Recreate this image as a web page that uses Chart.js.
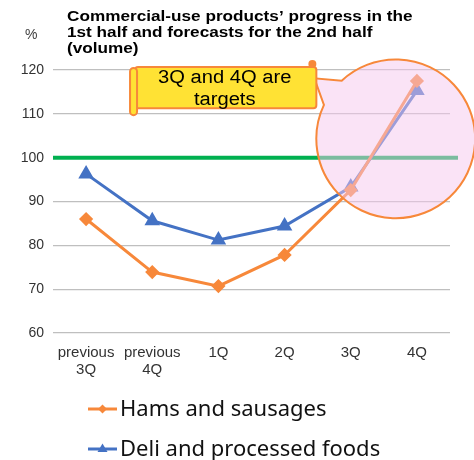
<!DOCTYPE html>
<html>
<head>
<meta charset="utf-8">
<script src="https://cdn.jsdelivr.net/npm/chart.js@4/dist/chart.umd.min.js"></script>
<style>
html,body{margin:0;padding:0;background:#fff;}
#wrap{width:474px;height:460px;position:relative;}
</style>
</head>
<body>
<div id="wrap"><canvas id="c" width="474" height="460"></canvas></div>
<script>
const categories = [["previous","3Q"],["previous","4Q"],"1Q","2Q","3Q","4Q"];
const hamsLabel = "Hams and sausages";
const hamsValues = [86.0, 73.9, 70.7, 77.8, 92.6, 117.5];
const deliLabel = "Deli and processed foods";
const deliValues = [96.3, 85.6, 81.2, 84.4, 93.3, 115.3];
const yTicks = [60, 70, 80, 90, 100, 110, 120];
const targetLine = 100;
const titleLines = ["Commercial-use products\u2019 progress in the", "1st half and forecasts for the 2nd half", "(volume)"];
const unitLabel = "%";
const calloutLines = ["3Q and 4Q are", "targets"];

const ORANGE = "#F7883A";
const BLUE = "#4472C4";
const GREEN = "#00B050";

function stretchText(ctx, text, x, y, sx) {
  ctx.save();
  ctx.translate(x, y);
  ctx.scale(sx, 1);
  ctx.fillText(text, 0, 0);
  ctx.restore();
}

const decor = {
  id: "decor",
  beforeDatasetsDraw(chart) {
    const ctx = chart.ctx, y = chart.scales.y, ca = chart.chartArea;
    const py = y.getPixelForValue(targetLine);
    ctx.save();
    ctx.strokeStyle = GREEN;
    ctx.lineWidth = 4;
    ctx.beginPath();
    ctx.moveTo(ca.left, py);
    ctx.lineTo(ca.right + 8, py);
    ctx.stroke();
    ctx.restore();
  },
  afterDatasetsDraw(chart) {
    const ctx = chart.ctx, x = chart.scales.x, y = chart.scales.y;
    const step = x.getPixelForValue(1) - x.getPixelForValue(0);
    const cx = x.getPixelForValue(4) + 0.68 * step;
    const cy = y.getPixelForValue(104.3);
    const r = 1.2 * step;
    const tipX = x.getPixelForValue(1.5) + 1.95 * step;
    const tipY = y.getPixelForValue(118.1);
    const a1 = Math.atan2(82 - 139, 342 - 395);
    const a2 = Math.atan2(105 - 139, 323 - 395) + Math.PI * 2;
    ctx.save();
    ctx.beginPath();
    ctx.arc(cx, cy, r, a1, a2, false);
    ctx.lineTo(tipX, tipY);
    ctx.closePath();
    ctx.fillStyle = "rgba(246,200,238,0.5)";
    ctx.fill();
    ctx.strokeStyle = ORANGE;
    ctx.lineWidth = 2;
    ctx.stroke();
    const bx = x.getPixelForValue(0) + 0.74 * step, bx2 = tipX + 2;
    const by = y.getPixelForValue(120.7), by2 = y.getPixelForValue(111.3);
    ctx.fillStyle = "#FFE234";
    ctx.strokeStyle = ORANGE;
    ctx.lineWidth = 2;
    ctx.beginPath();
    ctx.roundRect(bx, by, bx2 - bx, by2 - by, 3);
    ctx.fill(); ctx.stroke();
    ctx.beginPath();
    ctx.roundRect(bx - 5, by + 1, 7, by2 - by + 6, 3.5);
    ctx.fill(); ctx.stroke();
    ctx.fillStyle = ORANGE;
    ctx.beginPath();
    ctx.arc(bx2 - 4, by - 3, 4, 0, Math.PI * 2);
    ctx.fill();
    ctx.fillStyle = "#000";
    ctx.font = "18px 'Liberation Sans', Arial, sans-serif";
    ctx.textAlign = "center";
    ctx.textBaseline = "middle";
    const tx = (bx + bx2) / 2 - 1;
    stretchText(ctx, calloutLines[0], tx, by + 11, 1.12);
    stretchText(ctx, calloutLines[1], tx, by + 33, 1.12);
    ctx.restore();
  },
  afterDraw(chart) {
    const ctx = chart.ctx;
    ctx.save();
    ctx.fillStyle = "#000";
    ctx.font = "bold 15px 'Liberation Sans', Arial, sans-serif";
    ctx.textAlign = "left";
    ctx.textBaseline = "middle";
    titleLines.forEach((t, i) => stretchText(ctx, t, 67, 17 + i * 16, 1.145));
    ctx.font = "14px 'Liberation Sans', Arial, sans-serif";
    ctx.fillStyle = "#404040";
    ctx.fillText(unitLabel, 25, 35);
    const items = [
      {label: hamsLabel, color: ORANGE, style: "diamond", y: 409},
      {label: deliLabel, color: BLUE, style: "triangle", y: 449}
    ];
    items.forEach(it => {
      ctx.strokeStyle = it.color;
      ctx.fillStyle = it.color;
      ctx.lineWidth = 3;
      ctx.beginPath();
      ctx.moveTo(88, it.y); ctx.lineTo(117, it.y);
      ctx.stroke();
      const mx = 102.5, my = it.y;
      ctx.beginPath();
      if (it.style === "diamond") {
        ctx.moveTo(mx, my - 4.5); ctx.lineTo(mx + 4.5, my); ctx.lineTo(mx, my + 4.5); ctx.lineTo(mx - 4.5, my);
      } else {
        ctx.moveTo(mx, my - 5.5); ctx.lineTo(mx + 5, my + 3); ctx.lineTo(mx - 5, my + 3);
      }
      ctx.closePath(); ctx.fill();
      ctx.fillStyle = "#111";
      ctx.font = "22px 'Noto Sans', sans-serif";
      ctx.textBaseline = "middle";
      ctx.fillText(it.label, 120, it.y + 1);
    });
    ctx.restore();
  }
};

new Chart(document.getElementById("c"), {
  type: "line",
  data: {
    labels: categories,
    datasets: [
      {label: hamsLabel, data: hamsValues, borderColor: ORANGE, backgroundColor: ORANGE,
       borderWidth: 3, pointStyle: "rectRot", pointRadius: 5, pointHoverRadius: 5, tension: 0},
      {label: deliLabel, data: deliValues, borderColor: BLUE, backgroundColor: BLUE,
       borderWidth: 3, pointStyle: "triangle", pointRadius: 6, pointHoverRadius: 6, tension: 0}
    ]
  },
  options: {
    responsive: false,
    animation: false,
    events: [],
    layout: {padding: {top: 70, right: 24, left: 0, bottom: 0}},
    plugins: {legend: {display: false}, title: {display: false}, tooltip: {enabled: false}},
    scales: {
      x: {
        offset: true,
        grid: {display: false, drawTicks: false, offset: true},
        border: {display: false},
        ticks: {color: "#333", font: {family: "'Liberation Sans', Arial, sans-serif", size: 15, lineHeight: 1.1}, padding: 12, maxRotation: 0, autoSkip: false},
        afterFit(s) { s.height = 127; }
      },
      y: {
        min: 60, max: 120,
        afterBuildTicks(s) { s.ticks = yTicks.map(v => ({value: v})); },
        grid: {color: "#BFBFBF", lineWidth: 1.3, drawTicks: false},
        border: {display: false},
        ticks: {color: "#333", font: {family: "'Liberation Sans', Arial, sans-serif", size: 14}, padding: 9},
        afterFit(s) { s.width = 53; }
      }
    }
  },
  plugins: [decor]
});
</script>
</body>
</html>
